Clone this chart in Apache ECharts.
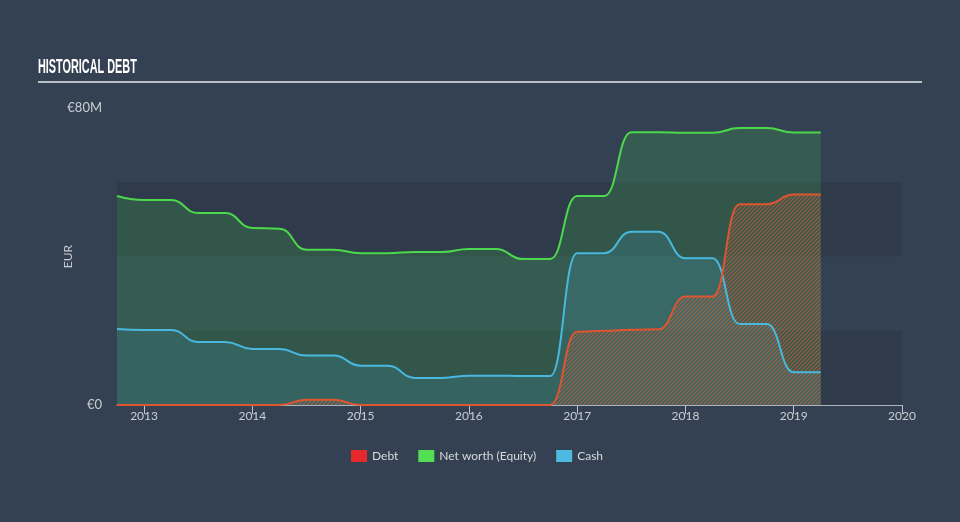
<!DOCTYPE html>
<html>
<head>
<meta charset="utf-8">
<script src="https://cdn.jsdelivr.net/npm/echarts@6/dist/echarts.min.js"></script>
<style>
html,body{margin:0;padding:0;background:#344152;}
#c{width:960px;height:522px;}
</style>
</head>
<body>
<div id="c"></div>
<script>
// Quarter-end dates (decimal years)
const dates = [2012.75, 2013.0, 2013.25, 2013.5, 2013.75, 2014.0, 2014.25, 2014.5, 2014.75,
  2015.0, 2015.25, 2015.5, 2015.75, 2016.0, 2016.25, 2016.5, 2016.75,
  2017.0, 2017.25, 2017.5, 2017.75, 2018.0, 2018.25, 2018.5, 2018.75, 2019.0, 2019.25];
// Values in EUR millions
const equity = [56.3, 55.2, 55.2, 51.7, 51.7, 47.7, 47.5, 41.8, 41.8, 40.9, 40.9, 41.2, 41.2, 42.0,
  42.0, 39.3, 39.3, 56.3, 56.3, 73.5, 73.5, 73.3, 73.3, 74.6, 74.6, 73.4, 73.4];
const cash = [20.5, 20.2, 20.2, 17.0, 17.0, 15.1, 15.1, 13.3, 13.3, 10.6, 10.6, 7.3, 7.3, 7.9,
  7.9, 7.8, 7.8, 40.9, 40.9, 46.7, 46.7, 39.5, 39.5, 21.8, 21.8, 8.8, 8.8];
const debt = [0, 0, 0, 0, 0, 0, 0, 1.4, 1.4, 0, 0, 0, 0, 0,
  0, 0, 0, 19.7, 20.0, 20.3, 20.4, 29.2, 29.2, 54.1, 54.1, 56.7, 56.7];
const yearTicks = [2013, 2014, 2015, 2016, 2017, 2018, 2019, 2020];
const seriesNames = ['Debt', 'Net worth (Equity)', 'Cash'];

function pair(arr) { return dates.map((d, i) => [d, arr[i]]); }

// hatch pattern for debt area
const pc = document.createElement('canvas');
pc.width = 4; pc.height = 4;
const px = pc.getContext('2d');
px.strokeStyle = 'rgba(215,100,62,0.85)';
px.lineWidth = 1.3;
px.beginPath();
px.moveTo(-1, 5); px.lineTo(5, -1);
px.moveTo(-1, 1); px.lineTo(1, -1);
px.moveTo(3, 5); px.lineTo(5, 3);
px.stroke();

const labelColor = '#c9ced4';
const font = 'Lato, "Open Sans", sans-serif';

const chart = echarts.init(document.getElementById('c'), null, {renderer: 'canvas'});
chart.setOption({
  backgroundColor: '#344152',
  animation: false,
  graphic: [
    {type: 'text', x: 38, y: 57, scaleX: 0.53, scaleY: 1, style: {text: 'HISTORICAL DEBT', fill: '#ffffff',
      font: 'bold 20.5px "Liberation Sans", sans-serif', textVerticalAlign: 'top'}},
    {type: 'rect', shape: {x: 38, y: 81, width: 884, height: 2}, style: {fill: '#b9bfc7'}}
  ],
  legend: {
    left: 346, top: 445, icon: 'rect', itemWidth: 16, itemHeight: 12, itemGap: 20,
    textStyle: {color: '#d6dade', fontSize: 12, fontFamily: font},
    data: [
      {name: seriesNames[0], itemStyle: {color: '#e5292b'}},
      {name: seriesNames[1], itemStyle: {color: '#52e052'}},
      {name: seriesNames[2], itemStyle: {color: '#4bbade'}}
    ]
  },
  grid: {left: 117, right: 58, top: 108, bottom: 117},
  xAxis: {
    type: 'value', min: 2012.75, max: 2020,
    axisLine: {lineStyle: {color: '#aab2bc', width: 1}},
    axisTick: {customValues: yearTicks, length: 9, lineStyle: {color: '#c0c6cc'}},
    axisLabel: {customValues: yearTicks, formatter: v => String(Math.round(v)), color: labelColor,
      fontSize: 12, fontFamily: font, margin: 5},
    splitLine: {show: false}
  },
  yAxis: {
    type: 'value', min: 0, max: 80, interval: 20,
    name: 'EUR', nameLocation: 'middle', nameGap: 43, nameRotate: 90, nameMoveOverlap: false,
    nameTextStyle: {color: labelColor, fontSize: 12, fontFamily: font},
    axisLine: {show: false}, axisTick: {show: false},
    axisLabel: {formatter: v => v === 0 ? '€0' : (v === 80 ? '€80M' : ''), color: labelColor,
      fontSize: 13, fontFamily: font, margin: 15},
    splitLine: {show: false},
    splitArea: {show: true, areaStyle: {color: ['rgba(0,0,0,0.09)', 'rgba(0,0,0,0)']}}
  },
  series: [
    {name: seriesNames[1], type: 'line', data: pair(equity), smooth: true, smoothMonotone: 'x',
      showSymbol: false, silent: true, itemStyle: {color: '#52e052'},
      lineStyle: {color: '#4cd84c', width: 2}, areaStyle: {color: 'rgba(70,215,80,0.25)'}},
    {name: seriesNames[2], type: 'line', data: pair(cash), smooth: true, smoothMonotone: 'x',
      showSymbol: false, silent: true, itemStyle: {color: '#4bbade'},
      lineStyle: {color: '#48b8de', width: 2}, areaStyle: {color: 'rgba(72,186,222,0.22)'}},
    {name: seriesNames[0], type: 'line', data: pair(debt), smooth: true, smoothMonotone: 'x',
      showSymbol: false, silent: true, itemStyle: {color: '#e5292b'},
      lineStyle: {color: '#de5530', width: 2}, areaStyle: {color: {image: pc, repeat: 'repeat'}}}
  ]
});
</script>
</body>
</html>
